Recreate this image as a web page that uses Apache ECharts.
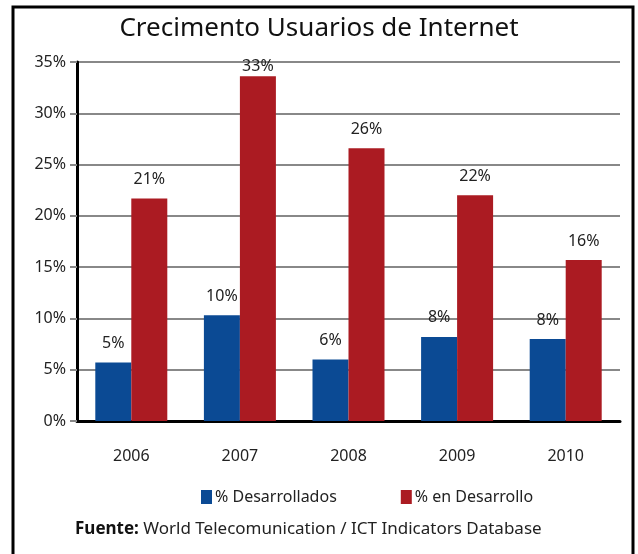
<!DOCTYPE html>
<html>
<head>
<meta charset="utf-8">
<title>Crecimento Usuarios de Internet</title>
<script src="https://cdn.jsdelivr.net/npm/echarts@6/dist/echarts.min.js"></script>
<style>
  html, body { margin: 0; padding: 0; background: #fff; }
  #chart { width: 638px; height: 554px; }
</style>
</head>
<body>
<div id="chart"></div>
<script>
// datos
var years = ["2006", "2007", "2008", "2009", "2010"];
var desarrollados = [5.7, 10.3, 6.0, 8.2, 8.0];
var enDesarrollo = [21.7, 33.6, 26.6, 22.0, 15.7];
// etiquetas tal como aparecen en el grafico
var labelsDesarrollados = ["5%", "10%", "6%", "8%", "8%"];
var labelsEnDesarrollo = ["21%", "33%", "26%", "22%", "16%"];
var yTicks = [0, 5, 10, 15, 20, 25, 30, 35];

var FONT = "Noto Sans";
var blue = "#0b4a94";
var red = "#ab1b22";

var chart = echarts.init(document.getElementById("chart"));

var option = {
  animation: false,
  textStyle: { fontFamily: FONT },
  title: {
    text: "Crecimento Usuarios de Internet",
    left: "center",
    top: 11,
    textStyle: { fontFamily: FONT, fontSize: 26, fontWeight: "normal", color: "#111" }
  },
  legend: {
    left: 196,
    top: 484,
    itemWidth: 11,
    itemHeight: 14,
    itemGap: 64,
    icon: "rect",
    textStyle: { fontFamily: FONT, fontSize: 16, color: "#222", padding: [0, 0, 0, -2] },
    data: ["% Desarrollados", "% en Desarrollo"]
  },
  grid: { left: 77, right: 18, top: 62, bottom: 133 },
  xAxis: {
    type: "category",
    data: years,
    axisLine: { lineStyle: { color: "#000", width: 3 } },
    axisTick: { show: false },
    axisLabel: { margin: 27, fontFamily: FONT, fontSize: 16, color: "#222" }
  },
  yAxis: {
    type: "value",
    min: 0,
    max: 35,
    interval: 5,
    axisLine: { show: true, lineStyle: { color: "#000", width: 3 } },
    axisTick: { show: true, length: 7, lineStyle: { color: "#888", width: 2 } },
    splitLine: { lineStyle: { color: "#888", width: 2 } },
    axisLabel: {
      margin: 11,
      fontFamily: FONT,
      fontSize: 16,
      color: "#222",
      formatter: function (v) { return yTicks.indexOf(v) >= 0 ? v + "%" : ""; }
    }
  },
  series: [
    {
      name: "% Desarrollados",
      type: "bar",
      barWidth: 36,
      barGap: "0%",
      itemStyle: { color: blue },
      label: {
        show: true,
        position: "top",
        distance: 11,
        fontFamily: FONT,
        fontSize: 16,
        color: "#222",
        formatter: function (p) { return labelsDesarrollados[p.dataIndex]; }
      },
      data: desarrollados
    },
    {
      name: "% en Desarrollo",
      type: "bar",
      barWidth: 36,
      itemStyle: { color: red },
      label: {
        show: true,
        position: "top",
        distance: 11,
        fontFamily: FONT,
        fontSize: 16,
        color: "#222",
        formatter: function (p) { return labelsEnDesarrollo[p.dataIndex]; }
      },
      data: enDesarrollo.map(function (v, i) {
        // la etiqueta de 2007 queda pegada a la barra
        return i === 1 ? { value: v, label: { distance: 2 } } : v;
      })
    }
  ],
  graphic: [
    {
      type: "rect",
      shape: { x: 13, y: 7, width: 620, height: 580 },
      style: { fill: "none", stroke: "#000", lineWidth: 3 },
      silent: true
    },
    {
      type: "text",
      left: 75,
      top: 521,
      style: {
        text: "{b|Fuente:} World Telecomunication / ICT Indicators Database",
        rich: {
          b: { fontFamily: FONT, fontSize: 17, fontWeight: "bold", fill: "#111" }
        },
        fontFamily: FONT,
        fontSize: 17,
        fill: "#222"
      }
    }
  ]
};

chart.setOption(option);
</script>
</body>
</html>
